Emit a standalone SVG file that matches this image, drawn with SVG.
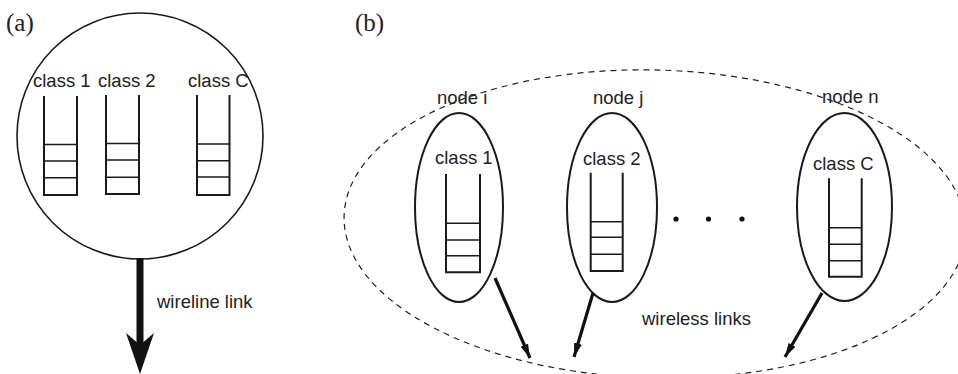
<svg xmlns="http://www.w3.org/2000/svg" width="958" height="374" viewBox="0 0 958 374">
<style>
text{font-family:"Liberation Sans",Arial,sans-serif;font-size:18.5px;fill:#222}
.lbl{font-family:"Liberation Serif","Times New Roman",serif;font-size:25px}
.ell{fill:none;stroke:#1a1a1a;stroke-width:2}
.q{fill:none;stroke:#1a1a1a;stroke-width:2}
.qh{stroke:#1a1a1a;stroke-width:1.6}
.dash{fill:none;stroke:#222;stroke-width:1.2;stroke-dasharray:6 5}
.lnk{stroke:#111;stroke-width:3.2;fill:none}
</style>
<defs>
<marker id="ah" markerUnits="userSpaceOnUse" markerWidth="16" markerHeight="10" refX="14" refY="4" orient="auto">
<path d="M0,0 L14,4 L0,8 Z" fill="#111"/>
</marker>
</defs>
<rect width="958" height="374" fill="#fff"/>
<text class="lbl" x="6" y="31">(a)</text>
<text class="lbl" x="355" y="31">(b)</text>

<g id="nodeA">
<circle cx="140" cy="136" r="123" fill="none" stroke="#1a1a1a" stroke-width="1.6"/>
<g id="a-q1">
<text x="33" y="87">class 1</text>
<path class="q" d="M44,96 V195 H77 V96"/>
<path class="qh" d="M44,144.5 H77 M44,161 H77 M44,177.7 H77"/>
</g>
<g id="a-q2">
<text x="98" y="87">class 2</text>
<path class="q" d="M106,95 V194 H139 V95"/>
<path class="qh" d="M106,143.5 H139 M106,160 H139 M106,177.3 H139"/>
</g>
<g id="a-qC">
<text x="188" y="87">class C</text>
<path class="q" d="M197,95 V195 H229.5 V95"/>
<path class="qh" d="M197,144 H229.5 M197,160.7 H229.5 M197,177 H229.5"/>
</g>
</g>

<g id="wireline">
<rect x="136.5" y="258" width="7" height="88" fill="#111"/>
<path d="M140,374 L126,333 L140,345 L154,333 Z" fill="#111"/>
<text x="157" y="308">wireline link</text>
</g>

<g id="region">
<ellipse class="dash" cx="655" cy="224" rx="311" ry="154" transform="rotate(1.5 655 224)"/>
</g>

<g id="node-i">
<text x="437" y="104">node i</text>
<ellipse class="ell" cx="459" cy="207.5" rx="44" ry="94.5"/>
<text x="435" y="164">class 1</text>
<path class="q" d="M446,174 V272.3 H480 V174"/>
<path class="qh" d="M446,223.3 H480 M446,240 H480 M446,255.7 H480"/>
</g>

<g id="node-j">
<text x="593" y="104">node j</text>
<ellipse class="ell" cx="612" cy="207.5" rx="45" ry="94.5"/>
<text x="583" y="165">class 2</text>
<path class="q" d="M590.7,172.7 V271 H622.7 V172.7"/>
<path class="qh" d="M590.7,221.7 H622.7 M590.7,237.3 H622.7 M590.7,254.3 H622.7"/>
</g>

<g id="node-n">
<text x="822" y="103">node n</text>
<ellipse class="ell" cx="844.5" cy="207" rx="47.5" ry="94"/>
<text x="813" y="170">class C</text>
<path class="q" d="M829,178.3 V276.7 H861.7 V178.3"/>
<path class="qh" d="M829,227.7 H861.7 M829,244.3 H861.7 M829,260.7 H861.7"/>
</g>

<g id="dots" fill="#111">
<circle cx="676" cy="219" r="2.6"/>
<circle cx="708.5" cy="219" r="2.6"/>
<circle cx="742" cy="219" r="2.6"/>
</g>

<g id="connectors">
<line class="lnk" x1="495" y1="278" x2="530" y2="358" marker-end="url(#ah)"/>
<line class="lnk" x1="593" y1="293" x2="574" y2="357" marker-end="url(#ah)"/>
<line class="lnk" x1="822" y1="293" x2="785" y2="357" marker-end="url(#ah)"/>
</g>
<text x="642" y="325">wireless links</text>
</svg>
